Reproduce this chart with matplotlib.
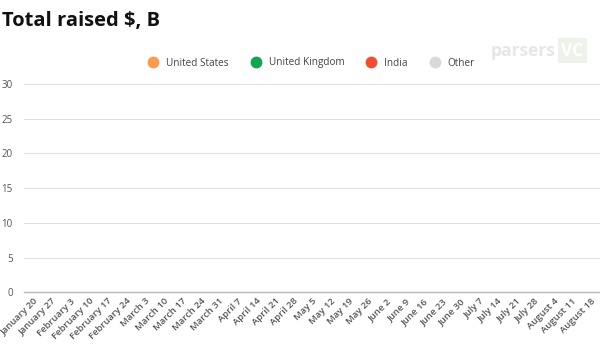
import matplotlib
matplotlib.use("Agg")
import matplotlib.pyplot as plt
import numpy as np

# weekly categories
weeks = ["January 20", "January 27", "February 3", "February 10", "February 17",
         "February 24", "March 3", "March 10", "March 17", "March 24", "March 31",
         "April 7", "April 14", "April 21", "April 28", "May 5", "May 12", "May 19",
         "May 26", "June 2", "June 9", "June 16", "June 23", "June 30", "July 7",
         "July 14", "July 21", "July 28", "August 4", "August 11", "August 18"]

# series are empty in the reference (nothing drawn)
us = [0] * len(weeks)
uk = [0] * len(weeks)
india = [0] * len(weeks)
other = [0] * len(weeks)

series_names = ["United States", "United Kingdom", "India", "Other"]
colors = ["#fd9a4c", "#0fa552", "#f44c2e", "#d9d9d9"]

plt.rcParams["font.family"] = ["Open Sans", "DejaVu Sans"]

fig = plt.figure(figsize=(6, 3.5), dpi=100)
ax = fig.add_axes([0.04, 0.165, 0.96, 0.595])

x = np.arange(len(weeks))
bottom = np.zeros(len(weeks))
for name, vals, c in zip(series_names, [us, uk, india, other], colors):
    ax.bar(x, vals, bottom=bottom, color=c, width=0.7)
    bottom += np.array(vals)

ax.set_ylim(0, 30)
ax.set_yticks(range(0, 31, 5))
ax.set_xlim(-0.5, len(weeks) - 0.5)
ax.set_xticks(x)
ax.set_xticklabels(weeks, rotation=45, ha="right", va="top",
                   rotation_mode="anchor", fontsize=6.8, color="#555555",
                   fontweight="semibold")
ax.tick_params(axis="x", length=0, pad=3)
ax.tick_params(axis="y", length=0, labelsize=7, labelcolor="#555555", pad=8)
ax.grid(axis="y", color="#e0e0e0", linewidth=0.8)
ax.set_axisbelow(True)
for s in ["top", "right", "left"]:
    ax.spines[s].set_visible(False)
ax.spines["bottom"].set_color("#bbbbbb")
ax.spines["bottom"].set_linewidth(1.0)

# legend
handles = [plt.Line2D([], [], marker="o", linestyle="", markersize=7.5,
                      markerfacecolor=c, markeredgecolor=c) for c in colors]
fig.legend(handles, series_names, loc="center", bbox_to_anchor=(0.515, 0.82),
           ncol=4, frameon=False, fontsize=7.2, handletextpad=0.3,
           columnspacing=1.7, labelcolor="#444444")

fig.text(0.003, 0.94, "Total raised $, B", fontsize=14.5, fontweight="bold",
         color="#111111", va="center")
fig.text(0.925, 0.855, "parsers", fontsize=12.5, fontweight="bold",
         color="#e6e6e6", ha="right", va="center")
fig.text(0.935, 0.855, "VC", fontsize=12.5, fontweight="bold", color="white",
         ha="left", va="center",
         bbox=dict(boxstyle="square,pad=0.2", fc="#eef3ea", ec="none"))

fig.savefig("out.png", dpi=100)
